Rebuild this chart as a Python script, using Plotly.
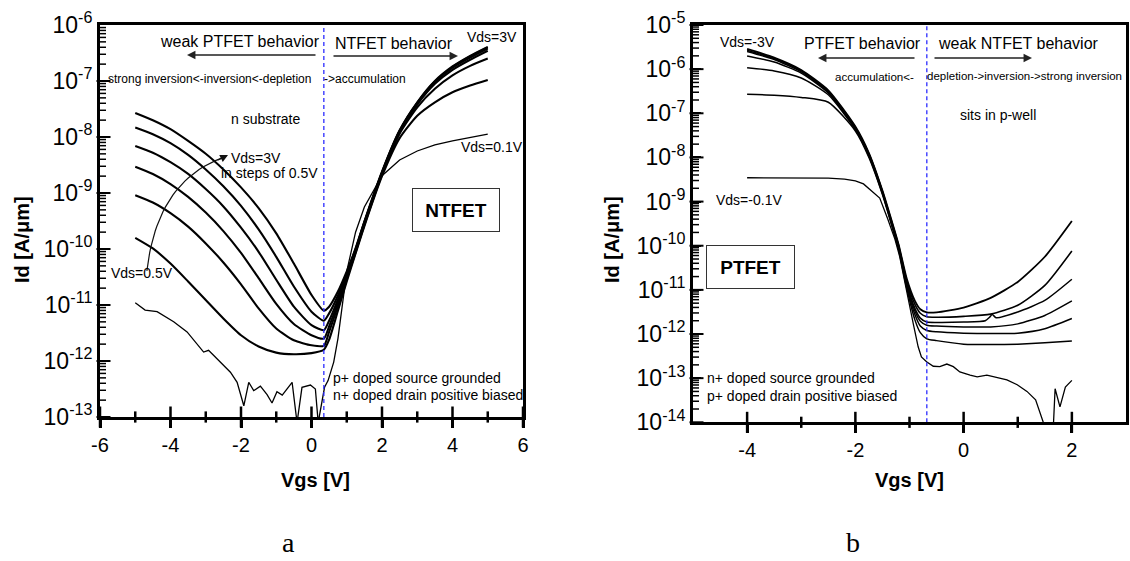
import numpy as np
import plotly.graph_objects as go

W, H = 1130, 561
FONT = "Liberation Sans, Arial, sans-serif"


def px(X):
    return X / W


def py(Y):
    return 1 - Y / H


# ---------------- data: NTFET (panel a) ----------------
vgs_n = [-5, -4.5, -4, -3.5, -3, -2.5, -2, -1.5, -1, -0.5, 0, 0.35,
         0.5, 0.75, 1, 1.25, 1.5, 2, 2.5, 3, 3.5, 4, 4.5, 5]
n_log_3p0 = [-7.57, -7.70, -7.86, -8.07, -8.30, -8.58, -8.90, -9.27, -9.72, -10.26, -10.82, -11.10,
             -11.03, -10.76, -10.40, -9.99, -9.51, -8.62, -7.88, -7.38, -7.00, -6.74, -6.55, -6.39]
n_log_2p5 = [-7.83, -7.95, -8.11, -8.32, -8.58, -8.88, -9.23, -9.65, -10.14, -10.67, -11.12, -11.28,
             -11.15, -10.83, -10.43, -10.00, -9.52, -8.63, -7.89, -7.39, -7.01, -6.75, -6.56, -6.40]
n_log_2p0 = [-8.16, -8.28, -8.45, -8.66, -8.93, -9.24, -9.62, -10.05, -10.55, -11.03, -11.36, -11.45,
             -11.28, -10.90, -10.46, -10.02, -9.53, -8.64, -7.90, -7.40, -7.02, -6.76, -6.58, -6.42]
n_log_1p5 = [-8.53, -8.66, -8.84, -9.07, -9.35, -9.68, -10.07, -10.52, -10.98, -11.34, -11.54, -11.60,
             -11.38, -10.96, -10.50, -10.04, -9.55, -8.65, -7.91, -7.42, -7.05, -6.80, -6.62, -6.46]
n_log_1p0 = [-9.04, -9.17, -9.36, -9.60, -9.90, -10.24, -10.63, -11.06, -11.42, -11.63, -11.72, -11.73,
             -11.48, -11.02, -10.54, -10.06, -9.57, -8.67, -7.94, -7.47, -7.14, -6.90, -6.73, -6.60]
n_log_0p5 = [-9.80, -9.99, -10.26, -10.58, -10.91, -11.24, -11.54, -11.74, -11.85, -11.88, -11.86, -11.80,
             -11.62, -11.10, -10.58, -10.08, -9.59, -8.70, -8.02, -7.62, -7.38, -7.20, -7.08, -6.98]

vgs_n_0p1 = [-5.0, -4.72, -4.38, -3.91, -3.53, -3.15, -3.06, -2.92, -2.68, -2.30, -2.11, -1.92, -1.78,
             -1.64, -1.45, -1.26, -1.12, -0.98, -0.83, -0.69, -0.55, -0.41, -0.27, -0.03, 0.11, 0.19,
             0.28, 0.37, 0.47, 0.63, 0.75, 0.85, 1.0, 1.25, 1.5, 2.0, 2.5, 3.0, 3.5, 4.0, 4.5, 5.0]
n_log_0p1 = [-10.96, -11.09, -11.12, -11.30, -11.48, -11.78, -11.84, -11.81, -11.96, -12.20, -12.38, -12.80,
             -12.38, -12.53, -12.45, -12.60, -12.75, -12.55, -12.61, -12.49, -12.38, -13.10, -12.47, -12.43,
             -12.50, -13.10, -12.78, -12.47, -12.35, -12.02, -11.60, -11.10, -10.40, -9.70, -9.25, -8.69,
             -8.41, -8.25, -8.14, -8.07, -8.01, -7.95]

# ---------------- data: PTFET (panel b) ----------------
vgs_p = [-4, -3.5, -3, -2.5, -2, -1.75, -1.5, -1.35, -1.2, -1.05, -0.9, -0.8, -0.68,
         -0.5, 0, 0.5, 1, 1.5, 2]
p_log_3p0 = [-5.54, -5.74, -6.02, -6.48, -7.30, -7.90, -8.75, -9.35, -9.98, -10.75, -11.25, -11.44, -11.51,
             -11.51, -11.40, -11.18, -10.82, -10.25, -9.44]
p_log_2p5 = [-5.57, -5.76, -6.04, -6.50, -7.32, -7.92, -8.77, -9.37, -10.00, -10.80, -11.33, -11.53, -11.61,
             -11.62, -11.60, -11.55, -11.35, -10.90, -10.12]
vgs_p_2p0 = [-4, -3.5, -3, -2.5, -2, -1.75, -1.5, -1.35, -1.2, -1.05, -0.9, -0.8, -0.68,
             -0.5, 0, 0.4, 0.48, 0.53, 0.6, 1, 1.5, 2]
p_log_2p0 = [-5.60, -5.78, -6.06, -6.52, -7.33, -7.93, -8.78, -9.39, -10.02, -10.85, -11.42, -11.64, -11.73,
             -11.74, -11.73, -11.70, -11.62, -11.56, -11.63, -11.50, -11.24, -10.76]
p_log_1p5 = [-5.70, -5.84, -6.09, -6.54, -7.35, -7.95, -8.80, -9.41, -10.04, -10.88, -11.48, -11.71, -11.80,
             -11.82, -11.84, -11.84, -11.77, -11.58, -11.25]
p_log_1p0 = [-5.97, -6.04, -6.20, -6.58, -7.37, -7.97, -8.82, -9.43, -10.06, -10.92, -11.56, -11.82, -11.92,
             -11.95, -11.98, -11.99, -11.98, -11.88, -11.65]
p_log_0p5 = [-6.57, -6.59, -6.64, -6.75, -7.40, -8.00, -8.84, -9.45, -10.10, -10.97, -11.68, -11.97, -12.11,
             -12.15, -12.23, -12.24, -12.23, -12.20, -12.16]
vgs_p_0p1 = [-4, -3, -2.5, -2.2, -2, -1.85, -1.7, -1.55, -1.4, -1.27, -1.18, -1.06, -0.93, -0.84, -0.78,
             -0.685, -0.56, -0.44, -0.31, -0.19, -0.07, 0.12, 0.25, 0.43, 0.62, 0.80, 0.99, 1.17, 1.33,
             1.42, 1.48, 1.54, 1.65, 1.69, 1.78, 1.88, 2.0]
p_log_0p1 = [-8.46, -8.46, -8.47, -8.49, -8.53, -8.60, -8.75, -8.92, -9.40, -9.85, -10.25, -11.01, -11.77,
             -12.29, -12.52, -12.63, -12.73, -12.74, -12.68, -12.74, -12.86, -12.93, -12.97, -12.93, -12.98,
             -13.04, -13.15, -13.30, -13.49, -13.79, -14.03, -14.30, -14.30, -13.24, -13.65, -13.20, -13.05]

# axis ticks
n_xrange = [-6, 6]
n_xticks = [-6, -4, -2, 0, 2, 4, 6]
n_xminor = [-5, -3, -1, 1, 3, 5]
n_ydec = list(range(-13, -5))
p_xrange = [-5, 3]
p_xticks = [-4, -2, 0, 2]
p_xminor = [-3, -1, 1]
p_ydec = list(range(-14, -4))

n_vline = 0.35
p_vline = -0.68

# curved "increasing Vds" arrow of panel a: start, control, end in (Vgs, log10 Id)
curve_pts = [(-4.67, -10.39), (-4.375, -8.77), (-2.47, -8.36)]

# panel placement (pixels)
N_BOX = (100, 523, 25, 417)      # left, right, top, bottom
P_BOX = (693, 1126, 25, 422.3)


def to_id(v):
    return (10.0 ** np.asarray(v, dtype=float)).tolist()


fig = go.Figure()

smooth_n = [n_log_3p0, n_log_2p5, n_log_2p0, n_log_1p5, n_log_1p0, n_log_0p5]
for lg in smooth_n:
    fig.add_trace(go.Scatter(x=vgs_n, y=to_id(lg), mode="lines", xaxis="x", yaxis="y",
                             line=dict(color="black", width=2.1, shape="spline", smoothing=0.6),
                             showlegend=False))
fig.add_trace(go.Scatter(x=vgs_n_0p1, y=to_id(n_log_0p1), mode="lines", xaxis="x", yaxis="y",
                         line=dict(color="black", width=1.3), showlegend=False))

for xs, lg, w in [(vgs_p, p_log_3p0, 1.8), (vgs_p, p_log_2p5, 1.6), (vgs_p_2p0, p_log_2p0, 1.5),
                  (vgs_p, p_log_1p5, 1.5), (vgs_p, p_log_1p0, 1.5), (vgs_p, p_log_0p5, 1.5)]:
    fig.add_trace(go.Scatter(x=xs, y=to_id(lg), mode="lines", xaxis="x2", yaxis="y2",
                             line=dict(color="black", width=w, shape="spline", smoothing=0.6),
                             showlegend=False))
fig.add_trace(go.Scatter(x=vgs_p_0p1, y=to_id(p_log_0p1), mode="lines", xaxis="x2", yaxis="y2",
                         line=dict(color="black", width=1.3), showlegend=False))

# dashed boundary lines, spanning the full y range of each panel
fig.add_trace(go.Scatter(x=[n_vline, n_vline], y=[10.0 ** n_ydec[0], 10.0 ** n_ydec[-1]], mode="lines",
                         xaxis="x", yaxis="y", line=dict(color="#2b2bff", width=1.3, dash="4px,3px"),
                         showlegend=False))
fig.add_trace(go.Scatter(x=[p_vline, p_vline], y=[10.0 ** p_ydec[0], 10.0 ** p_ydec[-1]], mode="lines",
                         xaxis="x2", yaxis="y2", line=dict(color="#2b2bff", width=1.3, dash="4px,3px"),
                         showlegend=False))

# curved arrow body (quadratic Bezier in axis space)
t = np.linspace(0, 1, 30)
(x0, l0), (xc, lc), (x1, l1) = curve_pts
bx = (1 - t) ** 2 * x0 + 2 * (1 - t) * t * xc + t ** 2 * x1
bl = (1 - t) ** 2 * l0 + 2 * (1 - t) * t * lc + t ** 2 * l1
fig.add_trace(go.Scatter(x=bx.tolist(), y=to_id(bl), mode="lines", xaxis="x", yaxis="y",
                         line=dict(color="#111111", width=1.2), showlegend=False))


# tick marks drawn as line markers at the tick values (crossing x ticks, inside y ticks)
def tick_marks(xa, ya, xrange, box, xt, xm, decs):
    ppu = (box[1] - box[0]) / (xrange[1] - xrange[0])
    ybot = 10.0 ** decs[0]
    fig.add_trace(go.Scatter(x=xt, y=[ybot] * len(xt), mode="markers", xaxis=xa, yaxis=ya, cliponaxis=False,
                             marker=dict(symbol="line-ns", size=15, color="black",
                                         line=dict(width=2.5, color="black")), showlegend=False))
    fig.add_trace(go.Scatter(x=xm, y=[ybot] * len(xm), mode="markers", xaxis=xa, yaxis=ya, cliponaxis=False,
                             marker=dict(symbol="line-ns", size=8, color="black",
                                         line=dict(width=2.5, color="black")), showlegend=False))
    major_y = [10.0 ** d for d in decs]
    minor_y = [k * 10.0 ** d for d in decs[:-1] for k in range(2, 10)]
    fig.add_trace(go.Scatter(x=[xrange[0] + 3.5 / ppu] * len(major_y), y=major_y, mode="markers",
                             xaxis=xa, yaxis=ya, cliponaxis=False,
                             marker=dict(symbol="line-ew", size=10, color="black",
                                         line=dict(width=2, color="black")), showlegend=False))
    fig.add_trace(go.Scatter(x=[xrange[0] + 2.5 / ppu] * len(minor_y), y=minor_y, mode="markers",
                             xaxis=xa, yaxis=ya, cliponaxis=False,
                             marker=dict(symbol="line-ew", size=5, color="black",
                                         line=dict(width=1.5, color="black")), showlegend=False))


tick_marks("x", "y", n_xrange, N_BOX, n_xticks, n_xminor, n_ydec)
tick_marks("x2", "y2", p_xrange, P_BOX, p_xticks, p_xminor, p_ydec)

tickfont_x = dict(family=FONT, size=20, color="black")
tickfont_y = dict(family=FONT, size=23, color="black")


def xaxis_main(domain, rng, ticks, anchor):
    return dict(domain=domain, range=rng, anchor=anchor, automargin=False, showline=True, linewidth=3,
                linecolor="black", mirror=True, showgrid=False, zeroline=False, ticks="outside", ticklen=8,
                tickwidth=2.5, tickcolor="black", tickvals=ticks, ticktext=[str(v) for v in ticks],
                tickfont=tickfont_x)


def yaxis_log(domain, decs, anchor):
    return dict(domain=domain, type="log", range=[decs[0], decs[-1]], anchor=anchor, automargin=False,
                showline=True, linewidth=3, linecolor="black", mirror=True, showgrid=False, zeroline=False,
                ticks="inside", ticklen=8, tickwidth=2, tickcolor="black",
                tickvals=[10.0 ** d for d in decs], ticktext=["10<sup>%d</sup>" % d for d in decs],
                tickfont=tickfont_y)


fig.update_layout(
    template="none",
    width=W, height=H, margin=dict(l=0, r=0, t=0, b=0, pad=0, autoexpand=False), autosize=False,
    showlegend=False,
    xaxis=xaxis_main([px(N_BOX[0]), px(N_BOX[1])], n_xrange, n_xticks, "y"),
    yaxis=yaxis_log([py(N_BOX[3]), py(N_BOX[2])], n_ydec, "x"),
    xaxis2=xaxis_main([px(P_BOX[0]), px(P_BOX[1])], p_xrange, p_xticks, "y2"),
    yaxis2=yaxis_log([py(P_BOX[3]), py(P_BOX[2])], p_ydec, "x2"),
)

ann = []


def note(X, Y, text, size, xanchor="left", yanchor="middle", **kw):
    fam = kw.pop("family", FONT)
    ann.append(dict(x=px(X), y=py(Y), xref="paper", yref="paper", text=text, showarrow=False,
                    xanchor=xanchor, yanchor=yanchor,
                    font=dict(family=fam, size=size, color="black"), **kw))


def arrow(Xt, Yt, Xh, Yh):
    ann.append(dict(x=px(Xh), y=py(Yh), xref="paper", yref="paper", text="", showarrow=True,
                    ax=Xt - Xh, ay=Yt - Yh, arrowhead=2, arrowsize=1.3, arrowwidth=1.3,
                    arrowcolor="#222222"))


# panel a texts
note(240, 42, "weak PTFET behavior", 16, xanchor="center")
arrow(317, 55, 187, 55)
note(394, 43, "NTFET behavior", 16, xanchor="center")
arrow(332, 56, 458, 56)
note(465, 37, "Vds=3V", 14)
note(106, 79, "strong inversion<-inversion<-depletion", 12)
note(322, 79, "->accumulation", 12)
note(265, 119, "n substrate", 14, xanchor="center")
note(229, 158, "Vds=3V", 14)
note(219, 173, "in steps of 0.5V", 14)
note(109, 273, "Vds=0.5V", 14)
note(459, 147, "Vds=0.1V", 14)
note(331, 378, "p+ doped source grounded", 14)
note(331, 395, "n+ doped drain positive biased", 14)
note(456, 210, "<b>NTFET</b>", 19, xanchor="center", bordercolor="#333333", borderwidth=1,
     width=84, height=40, bgcolor="white")
# head of the curved arrow
ann.append(dict(x=px(228), y=py(155), xref="paper", yref="paper", text="", showarrow=True,
                ax=-12, ay=6, arrowhead=2, arrowsize=1.3, arrowwidth=1.2, arrowcolor="#111111"))

# panel b texts
note(718, 42, "Vds=-3V", 14)
note(802, 43, "PTFET behavior", 16)
arrow(916, 58, 818, 58)
note(936, 43, "weak NTFET behavior", 16)
arrow(933, 58, 1032, 58)
note(833, 76, "accumulation<-", 11.6)
note(925, 76, "depletion->inversion->strong inversion", 11.5)
note(998, 115, "sits in p-well", 14, xanchor="center")
note(714, 200, "Vds=-0.1V", 14)
note(705, 378, "n+ doped source grounded", 14)
note(705, 396, "p+ doped drain positive biased", 14)
note(750.5, 267, "<b>PTFET</b>", 19, xanchor="center", bordercolor="#333333", borderwidth=1,
     width=85, height=40, bgcolor="white")

# axis titles
for X in (22, 612):
    ann.append(dict(x=px(X), y=py(240), xref="paper", yref="paper", text="<b>Id [A/μm]</b>",
                    showarrow=False, textangle=-90, xanchor="center", yanchor="middle",
                    font=dict(family=FONT, size=20, color="black")))
for X in (315, 909):
    ann.append(dict(x=px(X), y=py(480), xref="paper", yref="paper", text="<b>Vgs [V]</b>",
                    showarrow=False, xanchor="center", yanchor="middle",
                    font=dict(family=FONT, size=20, color="black")))

# panel captions
note(288, 560, "a", 28, xanchor="center", yanchor="bottom",
     family="Liberation Serif, Times New Roman, serif")
note(853, 560, "b", 28, xanchor="center", yanchor="bottom",
     family="Liberation Serif, Times New Roman, serif")

fig.update_layout(annotations=ann)
fig.write_html("out.html")
